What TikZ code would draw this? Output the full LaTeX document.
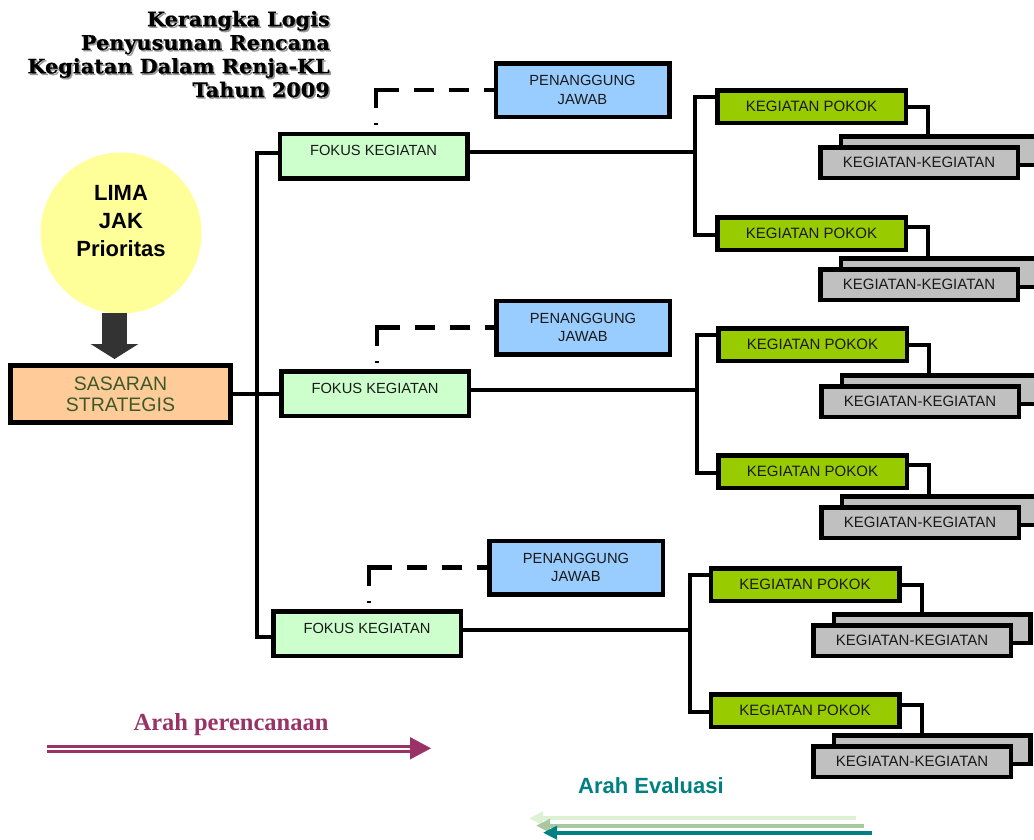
\documentclass[tikz,border=0pt]{standalone}
\usepackage{fontspec}
\setmainfont{Liberation Sans}
\newfontfamily\serifb{Liberation Serif}
\newfontfamily\titlefont{DejaVu Serif}[BoldFeatures={FakeBold=0.6,FakeStretch=1.04}]
\usetikzlibrary{arrows.meta}
\definecolor{fokusc}{HTML}{CCFFCC}
\definecolor{pjc}{HTML}{99CCFF}
\definecolor{kpc}{HTML}{99CC00}
\definecolor{grayc}{HTML}{C0C0C0}
\definecolor{sasc}{HTML}{FFCC99}
\definecolor{sastext}{HTML}{3C5A28}
\definecolor{yelc}{HTML}{FFFF99}
\definecolor{arrc}{HTML}{333333}
\definecolor{magc}{HTML}{993366}
\definecolor{tealc}{HTML}{008080}
\definecolor{evlight}{HTML}{DDF2D2}
\definecolor{evmid}{HTML}{A8C8A0}
\definecolor{txt}{HTML}{1A1A1A}
\begin{document}
\begin{tikzpicture}[x=1pt,y=-1pt,
  box/.style={draw=black, line width=4.5pt, inner sep=0pt, align=center, text=txt},
  fokus/.style={box, fill=fokusc, minimum width=187.5pt, minimum height=44.5pt,
     text height=10.5pt, text depth=11pt, font=\fontsize{14.7}{17}\selectfont},
  pj/.style={box, fill=pjc, minimum width=173.5pt, minimum height=53.5pt, font=\fontsize{14.7}{18.5}\selectfont},
  kp/.style={box, fill=kpc, minimum width=188.5pt, minimum height=32.5pt, font=\fontsize{15}{17}\selectfont},
  kgf/.style={box, fill=grayc, minimum width=197.5pt, minimum height=30.5pt, font=\fontsize{15}{17}\selectfont},
  kgb/.style={box, fill=grayc, minimum width=196.5pt, minimum height=28.5pt},
  conn/.style={draw=black, line width=4pt},
  dconn/.style={draw=black, line width=4.5pt,
     dash pattern=on 0pt off 6.5pt on 2pt off 15pt on 40.5pt off 15pt on 20pt off 15pt on 20pt off 15pt on 20pt},
  evarrow/.style={line width=4pt, -{Triangle[length=14pt,width=13pt]}},
  titletext/.style={font=\titlefont\bfseries\fontsize{20}{23.6}\selectfont, align=right, anchor=north east, inner sep=0pt}
]
\clip (0,0) rectangle (1034,839);
\fill[white] (0,0) rectangle (1034,839);

% Title
\node[titletext, text=black!40] (titleshadow) at (331.6,12.4) {Kerangka Logis\\Penyusunan Rencana\\Kegiatan Dalam Renja-KL\\Tahun 2009};
\node[titletext, text=black] (title) at (330,10.8) {Kerangka Logis\\Penyusunan Rencana\\Kegiatan Dalam Renja-KL\\Tahun 2009};

% Lima JAK circle
\node[circle, fill=yelc, minimum size=161pt, inner sep=0pt] (lima) at (121,233) {};
\node[font=\bfseries\fontsize{22}{28}\selectfont, align=center, text=black, inner sep=0pt] (limat) at ([yshift=12pt]lima.center) {LIMA\\JAK\\Prioritas};

% Sasaran strategis
\node[box, line width=5pt, fill=sasc, minimum width=220pt, minimum height=57pt, text=sastext,
      font=\fontsize{19.5}{21}\selectfont] (sas) at (120.5,394) {SASARAN\\STRATEGIS};

% block arrow
\draw[arrc, line width=25pt, -{Triangle[length=15pt,width=47pt]}]
   ([xshift=-6.5pt,yshift=1pt]lima.south) -- ([xshift=-6pt,yshift=4pt]sas.north);

% Fokus kegiatan
\node[fokus] (fok1) at (373.5,156) {FOKUS KEGIATAN};
\node[fokus] (fok2) at (375,393.5) {FOKUS KEGIATAN};
\node[fokus] (fok3) at (367,633.5) {FOKUS KEGIATAN};

% Penanggung jawab
\node[pj] (pj1) at (582.5,90) {PENANGGUNG\\JAWAB};
\node[pj] (pj2) at (583,327.5) {PENANGGUNG\\JAWAB};
\node[pj] (pj3) at (576,567.5) {PENANGGUNG\\JAWAB};

% dashed connectors
\draw[dconn] ([xshift=2.5pt]fok1.north) |- (pj1.west);
\draw[dconn] ([xshift=2pt]fok2.north) |- (pj2.west);
\draw[dconn] ([xshift=2pt]fok3.north) |- (pj3.west);

% trunk
\coordinate (tt) at (257,153);
\coordinate (tb) at (257,637);
\draw[conn] (fok1.west |- tt) -- (tt) -- (tb) -- (fok3.west |- tb);
\draw[conn] (sas.east) -- (sas.east -| fok2.west);

% Kegiatan pokok
\node[kp] (kp1) at (811.5,106.5) {KEGIATAN POKOK};
\node[kp] (kp2) at (811.5,233.5) {KEGIATAN POKOK};
\node[kp] (kp3) at (812.5,344.5) {KEGIATAN POKOK};
\node[kp] (kp4) at (812.5,471.5) {KEGIATAN POKOK};
\node[kp] (kp5) at (805,584.5) {KEGIATAN POKOK};
\node[kp] (kp6) at (805,710.5) {KEGIATAN POKOK};

% branches
\coordinate (r1t) at (695,97);  \coordinate (r1b) at (695,235); \coordinate (r1m) at (695,152);
\coordinate (r2t) at (697,335); \coordinate (r2b) at (697,473); \coordinate (r2m) at (697,390);
\coordinate (r3t) at (690,575); \coordinate (r3b) at (690,712); \coordinate (r3m) at (690,630);
\draw[conn] (kp1.west |- r1t) -- (r1t) -- (r1b) -- (kp2.west |- r1b);
\draw[conn] (fok1.east |- r1m) -- (r1m);
\draw[conn] (kp3.west |- r2t) -- (r2t) -- (r2b) -- (kp4.west |- r2b);
\draw[conn] (fok2.east |- r2m) -- (r2m);
\draw[conn] (kp5.west |- r3t) -- (r3t) -- (r3b) -- (kp6.west |- r3b);
\draw[conn] (fok3.east |- r3m) -- (r3m);

% Kegiatan-kegiatan (back boxes)
\node[kgb] (b1) at (939,150.5) {};
\node[kgb] (b2) at (939,272.5) {};
\node[kgb] (b3) at (940,389.5) {};
\node[kgb] (b4) at (940,510.5) {};
\node[kgb] (b5) at (932,628.5) {};
\node[kgb] (b6) at (932,749.5) {};
% front boxes
\node[kgf] (g1) at (919,162.5) {KEGIATAN-KEGIATAN};
\node[kgf] (g2) at (919,284.5) {KEGIATAN-KEGIATAN};
\node[kgf] (g3) at (920,401.5) {KEGIATAN-KEGIATAN};
\node[kgf] (g4) at (920,522.5) {KEGIATAN-KEGIATAN};
\node[kgf] (g5) at (912,640.5) {KEGIATAN-KEGIATAN};
\node[kgf] (g6) at (912,761.5) {KEGIATAN-KEGIATAN};

% KP -> kegiatan connectors
\coordinate (c1) at (928,107); \coordinate (c2) at (928,227);
\coordinate (c3) at (929,345); \coordinate (c4) at (929,465);
\coordinate (c5) at (922,585); \coordinate (c6) at (922,705);
\draw[conn] (kp1.east |- c1) -- (c1) -- (c1 |- b1.north);
\draw[conn] (kp2.east |- c2) -- (c2) -- (c2 |- b2.north);
\draw[conn] (kp3.east |- c3) -- (c3) -- (c3 |- b3.north);
\draw[conn] (kp4.east |- c4) -- (c4) -- (c4 |- b4.north);
\draw[conn] (kp5.east |- c5) -- (c5) -- (c5 |- b5.north);
\draw[conn] (kp6.east |- c6) -- (c6) -- (c6 |- b6.north);

% Arah perencanaan
\node[anchor=base, inner sep=0pt, text=magc, font=\serifb\bfseries\fontsize{24.5}{26}\selectfont] (ap) at (231,730.7) {Arah perencanaan};
\coordinate (ps) at (47,748.5);
\coordinate (pe) at (411,748.5);
\draw[magc, line width=3pt, double=white, double distance=2pt] (ps) -- (pe);
\fill[magc] (410,737) -- (431,748.3) -- (410,759.5) -- cycle;

% Arah evaluasi
\node[anchor=base, inner sep=0pt, text=tealc, font=\bfseries\fontsize{22}{24}\selectfont] (ae) at (651,793.3) {Arah Evaluasi};
\coordinate (e1s) at (856,818.3); \coordinate (e1e) at (529,818.3);
\coordinate (e2s) at (864,825.7); \coordinate (e2e) at (536,825.7);
\coordinate (e3s) at (872,832.7); \coordinate (e3e) at (543,832.7);
\draw[evarrow, evlight] (e1s) -- (e1e);
\draw[evarrow, evmid] (e2s) -- (e2e);
\draw[evarrow, tealc] (e3s) -- (e3e);
\end{tikzpicture}
\end{document}
